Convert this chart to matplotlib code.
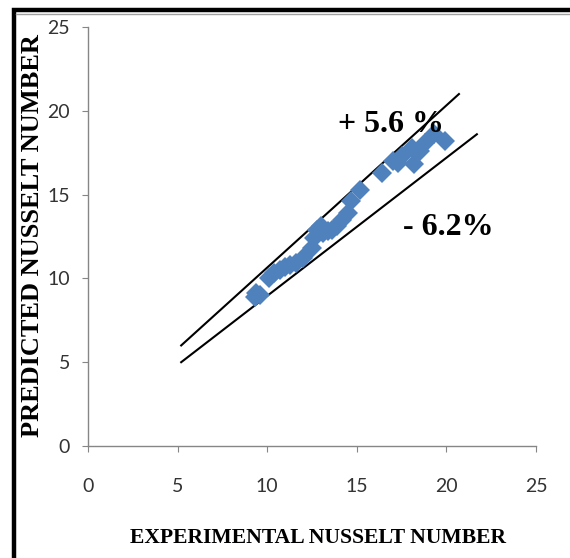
import numpy as np
import matplotlib.pyplot as plt
from matplotlib.lines import Line2D

# experimental vs predicted Nusselt number
nu_exp = [9.3, 9.6, 9.4, 10.1, 10.4, 10.7, 11.0, 11.3, 11.6, 12.0, 12.5,
          12.6, 12.8, 13.0, 13.1, 13.4, 13.6, 13.9, 14.2, 14.5, 14.7, 15.2,
          16.4, 17.0, 17.3, 17.5, 18.2, 18.1, 18.5, 18.8, 19.3, 19.9]
nu_pred = [8.9, 9.0, 9.1, 10.0, 10.3, 10.5, 10.7, 10.8, 10.9, 11.2, 11.8,
           12.4, 12.9, 13.1, 12.7, 12.8, 12.9, 13.1, 13.5, 13.9, 14.6, 15.3,
           16.3, 17.0, 16.9, 17.3, 16.8, 17.8, 17.6, 18.1, 18.6, 18.2]

# error band lines
upper_x = [5.2, 20.7]
upper_y = [6.0, 21.0]
lower_x = [5.2, 21.7]
lower_y = [5.0, 18.6]

ticks = [0, 5, 10, 15, 20, 25]

W, H = 570, 558
fig = plt.figure(figsize=(W / 100, H / 100), dpi=100)
ax = fig.add_axes([88 / W, 1 - 446 / H, 448 / W, 419 / H])

ax.plot(upper_x, upper_y, color='black', lw=1.5)
ax.plot(lower_x, lower_y, color='black', lw=1.5)
ax.plot(nu_exp, nu_pred, linestyle='none', marker='D', ms=10,
        color='#4F81BD', markeredgewidth=0)

ax.text(16.9, 19.2, '+ 5.6 %', fontsize=23, fontweight='bold',
        family='Liberation Serif', ha='center', va='center')
ax.text(20.1, 13.05, '- 6.2%', fontsize=23, fontweight='bold',
        family='Liberation Serif', ha='center', va='center')

ax.set_xlim(0, 25)
ax.set_ylim(0, 25)
ax.set_xticks(ticks)
ax.set_yticks(ticks)
for sp in ['top', 'right']:
    ax.spines[sp].set_visible(False)
for sp in ['left', 'bottom']:
    ax.spines[sp].set_color('#868686')
    ax.spines[sp].set_linewidth(1.0)
ax.tick_params(axis='both', direction='out', length=4, color='#868686',
               labelsize=14, labelcolor='#333333')
ax.tick_params(axis='x', pad=19)
ax.tick_params(axis='y', pad=9)
for lab in ax.get_xticklabels() + ax.get_yticklabels():
    lab.set_family('Lato')

fig.text(318 / W, 1 - 538 / H, 'EXPERIMENTAL NUSSELT NUMBER', fontsize=15.6,
         fontweight='bold', family='Liberation Serif', ha='center',
         va='center')
fig.text(33 / W, 1 - 236 / H, 'PREDICTED NUSSELT NUMBER', fontsize=19,
         fontweight='bold', family='Liberation Serif', ha='center',
         va='center', rotation=90)

# thick frame (cut off on the right and bottom)
fig.add_artist(Line2D([14 / W, 14 / W, 1.0], [0.0, 1 - 10 / H, 1 - 10 / H],
                      transform=fig.transFigure, color='black', lw=3.2,
                      solid_joinstyle='miter'))
fig.add_artist(Line2D([16 / W, 1.0], [1 - 13.5 / H, 1 - 13.5 / H],
                      transform=fig.transFigure, color='#a0a0a0', lw=1.0))

fig.savefig('out.png', dpi=100)
